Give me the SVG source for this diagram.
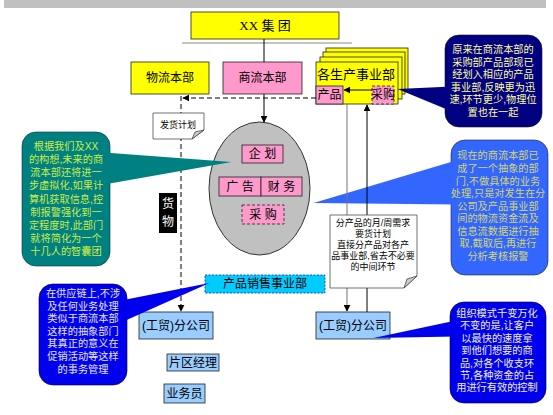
<svg xmlns="http://www.w3.org/2000/svg" width="553" height="415" viewBox="0 0 553 415">
<defs>
<marker id="ah" viewBox="0 0 10 10" refX="9" refY="5" markerWidth="7" markerHeight="7" markerUnits="userSpaceOnUse" orient="auto">
<path d="M0,0 L10,5 L0,10 Z" fill="#000"/>
</marker>
<style>
text{font-family:"Liberation Sans","Noto Sans CJK SC",sans-serif;text-anchor:middle;dominant-baseline:central}
.t12{font-size:12px;fill:#000}
.t9{font-size:9px;fill:#000}
.co{font-size:10.2px}
.box{stroke:#222;stroke-width:0.8}
.yel{fill:#FFFF00}
.pink{fill:#FF99CC}
.lb{fill:#99CCFF}
.dash{stroke-dasharray:3,2}
.conn{fill:none;stroke:#000;stroke-width:1}
</style>
</defs>
<rect x="4" y="0" width="542" height="8" fill="#C0C0C0"/>

<g id="callout-mid-right">
<rect x="451" y="140" width="97" height="135" rx="14" fill="#3366FF" stroke="#223" stroke-width="0.6"/>
<polygon points="313.5,203 456,160.5 456,204.5" fill="#3366FF"/>
<g class="co" fill="#D6D66A">
<text x="498" y="155">现在的商流本部已</text>
<text x="498" y="168">成了一个抽象的部</text>
<text x="498" y="181">门,不做具体的业务</text>
<text x="498" y="193">处理,只是对发生在分</text>
<text x="498" y="206">公司及产品事业部</text>
<text x="498" y="218">间的物流资金流及</text>
<text x="498" y="231">信息流数据进行抽</text>
<text x="498" y="243">取,截取后,再进行</text>
<text x="498" y="256">分析考核报警</text>
</g>
</g>

<g id="xx-group">
<rect class="box yel" x="191" y="12" width="148" height="27"/>
<text x="265" y="25.5" style="font-size:13px;font-family:'Liberation Serif','Noto Sans CJK SC',serif">XX 集 团</text>
</g>

<g id="wuliu">
<rect class="box yel" x="131" y="62" width="78" height="32"/>
<text class="t12" x="170" y="78">物流本部</text>
</g>

<g id="shangliu">
<rect class="box pink" x="223" y="62" width="79" height="32"/>
<text class="t12" x="262.5" y="78">商流本部</text>
</g>

<g id="shengchan">
<rect class="box yel" x="326" y="48" width="82" height="42"/>
<rect class="box yel" x="323" y="52" width="82" height="42"/>
<rect class="box yel" x="320" y="57" width="82" height="42"/>
<rect class="box yel" x="316" y="62" width="82" height="42"/>
<text x="356" y="74" style="font-size:13px">各生产事业部</text>
<rect class="box pink" x="316" y="86" width="27" height="18"/>
<text class="t12" x="329.5" y="95">产品</text>
<rect class="box pink dash" x="372" y="86" width="22" height="18"/>
<text class="t12" x="383" y="95">采购</text>
</g>

<g id="ellipse">
<ellipse cx="259.5" cy="188.5" rx="50.5" ry="66.5" fill="#C0C0C0" stroke="#333" stroke-width="1"/>
<rect class="box pink" x="242" y="145" width="41" height="18"/>
<text class="t12" x="262.5" y="154">企 划</text>
<rect class="box pink" x="219" y="177" width="42" height="19"/>
<text class="t12" x="240" y="186.5">广  告</text>
<rect class="box pink" x="261" y="177" width="41" height="19"/>
<text class="t12" x="281.5" y="186.5">财 务</text>
<rect class="box pink dash" x="242" y="205" width="42" height="19"/>
<text class="t12" x="263" y="214.5">采 购</text>
</g>

<g id="huowu">
<rect x="159" y="193" width="18" height="40" fill="#000"/>
<text x="168" y="204" style="font-size:12px;fill:#fff">货</text>
<text x="168" y="222" style="font-size:12px;fill:#fff">物</text>
</g>

<g id="xiaoshou">
<rect x="205" y="275" width="120" height="18" fill="#00CCFF" stroke="#0033AA" stroke-width="0.8" stroke-dasharray="2,1.5"/>
<text class="t12" x="265" y="284">产品销售事业部</text>
</g>

<g id="fengongsi-left">
<rect class="box lb" x="139" y="312" width="74" height="27"/>
<text class="t12" x="176" y="325.5">(工贸)分公司</text>
</g>

<g id="pianqu">
<rect class="box lb" x="167" y="354" width="52" height="17"/>
<text class="t12" x="193" y="362.5">片区经理</text>
</g>

<g id="yewuyuan">
<rect class="box lb" x="164" y="384" width="41" height="19"/>
<text class="t12" x="184.5" y="393.5">业务员</text>
</g>

<g id="fengongsi-right">
<rect class="box lb" x="316" y="312" width="74" height="27"/>
<text class="t12" x="353" y="325.5">(工贸)分公司</text>
</g>

<g id="connectors">
<line x1="182" y1="43" x2="352" y2="43" stroke="#888" stroke-width="1"/>
<line class="conn" x1="264" y1="39" x2="264" y2="62"/>
<line class="conn" x1="264" y1="94" x2="264" y2="122" marker-end="url(#ah)"/>
<line class="conn" x1="372" y1="90" x2="344" y2="90" marker-end="url(#ah)"/>
<path class="conn" d="M316,98 H183" stroke-dasharray="5,3" stroke-width="1.5" marker-end="url(#ah)"/>
<path class="conn" d="M181,96 V311" stroke-dasharray="5,3" stroke-width="1.5" marker-end="url(#ah)"/>
<line x1="347" y1="104" x2="347" y2="311" stroke="#777" stroke-width="1" marker-end="url(#ah)"/>
<line class="conn" x1="367" y1="312" x2="367" y2="105" stroke-width="1.3" marker-end="url(#ah)"/>
</g>

<g id="note-fahuo">
<path d="M153,113 H204 V130 L192,139 H153 Z" fill="#fff" stroke="#333" stroke-width="0.7"/>
<path d="M192,139 L195,132 L204,130 Z" fill="#ccc" stroke="#333" stroke-width="0.7"/>
<text class="t9" x="178" y="125">发货计划</text>
</g>

<g id="note-mid">
<path d="M330,215 H417 V276 L404,288 H330 Z" fill="#fff" stroke="#333" stroke-width="0.7"/>
<path d="M404,288 L407,279 L417,276 Z" fill="#ccc" stroke="#333" stroke-width="0.7"/>
<g class="t9">
<text x="373" y="223">分产品的月/周需求</text>
<text x="373" y="234">要货计划</text>
<text x="373" y="245">直接分产品对各产</text>
<text x="373" y="256">品事业部,省去不必要</text>
<text x="373" y="267">的中间环节</text>
</g>
</g>

<g id="callout-top-right">
<rect x="445" y="35" width="97" height="92" rx="14" fill="#000080" stroke="#112" stroke-width="0.6"/>
<polygon points="397.5,89 452,86.5 452,111.5" fill="#000080"/>
<g class="co" fill="#FFFF99">
<text x="493" y="49">原来在商流本部的</text>
<text x="493" y="62">采购部产品部现已</text>
<text x="493" y="74">经划入相应的产品</text>
<text x="493" y="87">事业部,反映更为迅</text>
<text x="493" y="99">速,环节更少,物理位</text>
<text x="493" y="112">置也在一起</text>
</g>
</g>

<g id="callout-left-teal">
<rect x="22" y="132" width="88" height="134" rx="14" fill="#008080" stroke="#033" stroke-width="0.6"/>
<polygon points="231.5,162 104,152.5 104,184.5" fill="#008080"/>
<g class="co" fill="#CCEE44">
<text x="66" y="146">根据我们及XX</text>
<text x="66" y="159">的构想,未来的商</text>
<text x="66" y="172">流本部还将进一</text>
<text x="66" y="185">步虚拟化,如果计</text>
<text x="66" y="199">算机获取信息,控</text>
<text x="66" y="212">制报警强化到一</text>
<text x="66" y="225">定程度时,此部门</text>
<text x="66" y="238">就将简化为一个</text>
<text x="66" y="251">十几人的智囊团</text>
</g>
</g>

<g id="callout-bottom-left">
<rect x="39" y="284" width="88" height="101" rx="14" fill="#0000EE" stroke="#002" stroke-width="0.6"/>
<polygon points="209.5,283 121,300.5 121,322.5" fill="#0000EE"/>
<g class="co" fill="#E6E6F0">
<text x="83" y="293">在供应链上,不涉</text>
<text x="83" y="306">及任何业务处理</text>
<text x="83" y="318.5">类似于商流本部</text>
<text x="83" y="331">这样的抽象部门</text>
<text x="83" y="343.5">其真正的意义在</text>
<text x="83" y="356">促销活动等这样</text>
<text x="83" y="369">的事务管理</text>
</g>
</g>

<g id="callout-bottom-right">
<rect x="450" y="302" width="96" height="101" rx="14" fill="#0000EE" stroke="#002" stroke-width="0.6"/>
<polygon points="373.5,338 456,320.5 456,336.5" fill="#0000EE"/>
<g class="co" fill="#F0F0D0">
<text x="497" y="313">组织模式千变万化</text>
<text x="497" y="325.5">不变的是,让客户</text>
<text x="497" y="338">以最快的速度拿</text>
<text x="497" y="350.5">到他们想要的商</text>
<text x="497" y="363">品,对各个收支环</text>
<text x="497" y="375">节,各种资金的占</text>
<text x="497" y="387.5">用进行有效的控制</text>
</g>
</g>
</svg>
